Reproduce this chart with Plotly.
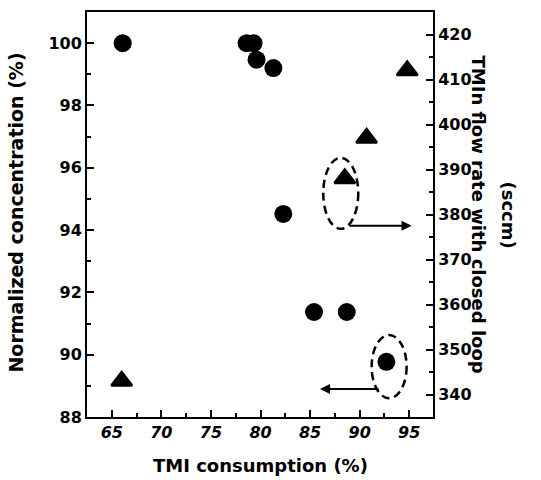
import plotly.graph_objects as go

# Data
conc_x = [66.1, 78.6, 79.3, 79.6, 81.3, 82.3, 85.4, 88.7, 92.7]
conc_y = [100.0, 100.0, 100.0, 99.47, 99.2, 94.52, 91.37, 91.37, 89.77]
flow_x = [66.0, 88.5, 90.7, 94.8]
flow_y = [343.0, 388.0, 397.0, 412.0]

x_title = "TMI consumption (%)"
y_title = "Normalized concentration (%)"
y2_title_main = "TMIn flow rate with closed loop"
y2_title_unit = "(sccm)"

FONT = "DejaVu Sans"

fig = go.Figure()
fig.add_trace(go.Scatter(
    x=conc_x, y=conc_y, mode="markers", yaxis="y",
    marker=dict(symbol="circle", size=18, color="black"),
    showlegend=False,
))
fig.add_trace(go.Scatter(
    x=flow_x, y=flow_y, mode="markers", yaxis="y2",
    marker=dict(symbol="triangle-up", size=18, color="black",
                line=dict(color="black", width=2.5)),
    showlegend=False,
))

axis_common = dict(
    showline=True, linecolor="black", linewidth=2,
    ticks="inside", ticklen=7, tickwidth=2, tickcolor="black",
    showgrid=False, zeroline=False,
)

fig.update_layout(
    width=541, height=480,
    margin=dict(l=87, r=108, t=10, b=63),
    paper_bgcolor="white", plot_bgcolor="white",
    font=dict(family=FONT, color="black", size=16, weight="bold"),
    xaxis=dict(
        range=[62.5, 97.4], tick0=65, dtick=5, mirror=True,
        tickfont=dict(family=FONT, size=16, weight="bold", style="italic"),
        minor=dict(dtick=2.5, ticks="inside", ticklen=4, tickwidth=2, tickcolor="black"),
        **axis_common,
    ),
    yaxis=dict(
        range=[88, 101], tick0=88, dtick=2,
        tickfont=dict(family=FONT, size=16, weight="bold"),
        minor=dict(dtick=1, ticks="inside", ticklen=4, tickwidth=2, tickcolor="black"),
        **axis_common,
    ),
    yaxis2=dict(
        range=[335, 425], tick0=340, dtick=10, overlaying="y", side="right",
        tickfont=dict(family=FONT, size=16, weight="bold"),
        minor=dict(dtick=5, ticks="inside", ticklen=4, tickwidth=2, tickcolor="black"),
        **axis_common,
    ),
)

# Axis titles as annotations
fig.add_annotation(text=x_title, xref="paper", yref="paper", x=0.5, y=-0.12,
                   xanchor="center", yanchor="middle", showarrow=False,
                   font=dict(family=FONT, size=18, weight="bold"))
fig.add_annotation(text=y_title, xref="paper", yref="paper", x=-0.205, y=0.505,
                   xanchor="center", yanchor="middle", showarrow=False, textangle=-90,
                   font=dict(family=FONT, size=19, weight="bold"))
fig.add_annotation(text=y2_title_main, xref="paper", yref="paper", x=(478 - 87) / 346, y=0.5,
                   xanchor="center", yanchor="middle", showarrow=False, textangle=90,
                   font=dict(family=FONT, size=18, weight="bold"))
fig.add_annotation(text=y2_title_unit, xref="paper", yref="paper", x=(508 - 87) / 346, y=0.5,
                   xanchor="center", yanchor="middle", showarrow=False, textangle=90,
                   font=dict(family=FONT, size=18, weight="bold"))

# Dashed ellipses
fig.add_shape(type="circle", xref="x", yref="y", x0=86.33, x1=89.86, y0=94.04, y1=96.32,
              line=dict(color="black", width=2.5, dash="8px,5px"))
fig.add_shape(type="circle", xref="x", yref="y", x0=91.21, x1=94.74, y0=88.60, y1=90.63,
              line=dict(color="black", width=2.5, dash="8px,5px"))

# Arrows
fig.add_annotation(x=95.24, y=94.14, ax=88.85, ay=94.14, xref="x", yref="y",
                   axref="x", ayref="y", showarrow=True, arrowhead=2, arrowsize=1,
                   arrowwidth=2, arrowcolor="black", text="")
fig.add_annotation(x=86.0, y=88.90, ax=92.05, ay=88.90, xref="x", yref="y",
                   axref="x", ayref="y", showarrow=True, arrowhead=2, arrowsize=1,
                   arrowwidth=2, arrowcolor="black", text="")

fig.write_html("out.html", config={"displayModeBar": False},
               post_script="document.body.style.margin='0';")
